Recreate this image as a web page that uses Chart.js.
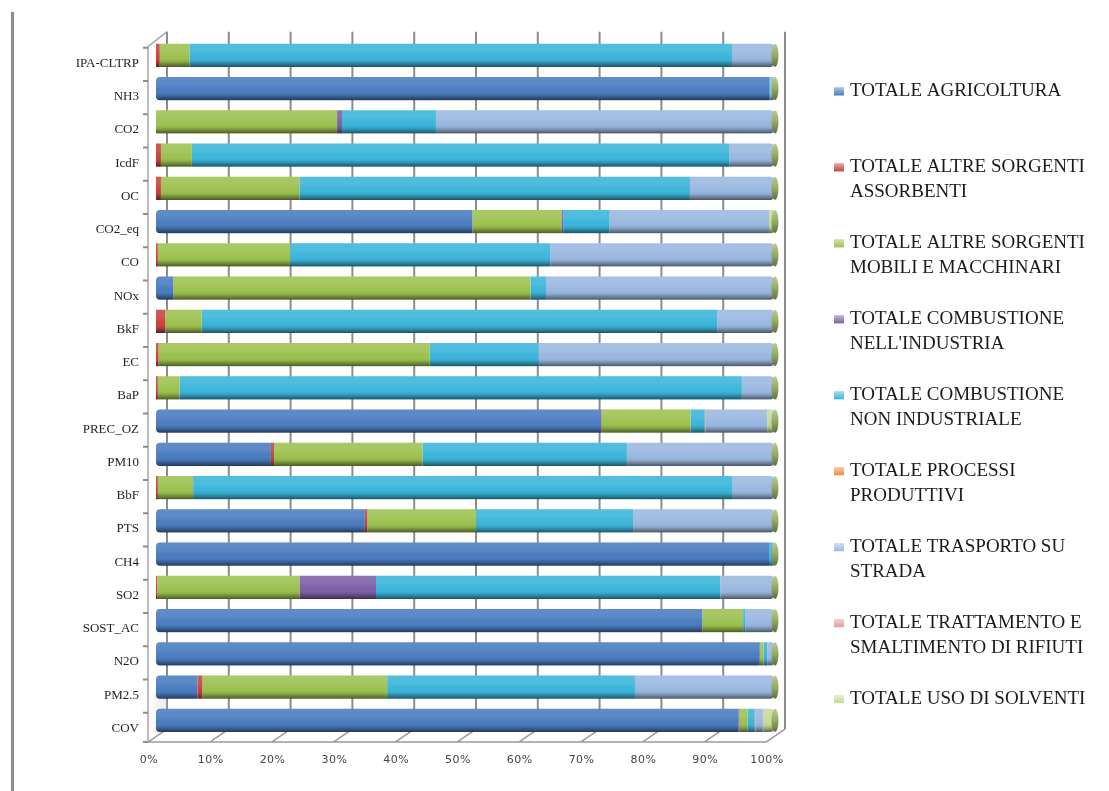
<!DOCTYPE html>
<html>
<head>
<meta charset="utf-8">
<title>Emissioni per macrosettore</title>
<script src="https://cdn.jsdelivr.net/npm/chart.js@4.4.0/dist/chart.umd.min.js"></script>
<style>
  html, body { margin: 0; padding: 0; background: #fff; }
  #wrap { position: relative; width: 1109px; height: 791px; overflow: hidden; }
  #wrap .side-rule {
    position: absolute; left: 11px; top: 12px; bottom: 0; width: 3px;
    background: #8c8c8c;
  }
  #chart { position: absolute; left: 0; top: 0; }
</style>
</head>
<body>
<div id="wrap">
  <div class="side-rule"></div>
  <canvas id="chart" width="1109" height="791"></canvas>
</div>
<script>
// === Data (percent share of each pollutant by macro-sector) ===
const categories = ['IPA-CLTRP', 'NH3', 'CO2', 'IcdF', 'OC', 'CO2_eq', 'CO', 'NOx', 'BkF', 'EC',
  'BaP', 'PREC_OZ', 'PM10', 'BbF', 'PTS', 'CH4', 'SO2', 'SOST_AC', 'N2O', 'PM2.5', 'COV'];

const seriesNames = [
  'TOTALE AGRICOLTURA',
  'TOTALE ALTRE SORGENTI ASSORBENTI',
  'TOTALE ALTRE SORGENTI MOBILI E MACCHINARI',
  "TOTALE COMBUSTIONE NELL'INDUSTRIA",
  'TOTALE COMBUSTIONE NON INDUSTRIALE',
  'TOTALE PROCESSI PRODUTTIVI',
  'TOTALE TRASPORTO SU STRADA',
  'TOTALE TRATTAMENTO E SMALTIMENTO DI RIFIUTI',
  'TOTALE USO DI SOLVENTI'
];

const agricoltura     = [0, 99.2, 0, 0, 0, 51.2, 0, 2.8, 0, 0, 0, 72.0, 18.6, 0, 33.8, 99.2, 0, 88.4, 97.7, 6.7, 94.3];
const altreAssorbenti = [0.6, 0, 0, 0.8, 0.8, 0, 0.3, 0, 1.5, 0.4, 0.3, 0.1, 0.5, 0.3, 0.4, 0, 0.2, 0, 0, 0.8, 0.1];
const altreMobili     = [4.8, 0, 29.3, 5.0, 22.4, 14.4, 21.4, 57.8, 5.9, 43.9, 3.5, 14.4, 24.0, 5.7, 17.6, 0, 23.0, 6.6, 0.6, 29.9, 1.3];
const combIndustria   = [0, 0, 0.8, 0, 0, 0.3, 0, 0, 0, 0, 0, 0, 0, 0, 0, 0, 12.4, 0, 0, 0, 0];
const combNonInd      = [87.8, 0.2, 15.2, 87.0, 63.2, 7.5, 42.1, 2.5, 83.4, 17.6, 91.0, 2.3, 33.1, 87.2, 25.4, 0.6, 55.7, 0.4, 0.6, 40.1, 1.2];
const processiProd    = [0, 0, 0, 0, 0, 0, 0, 0, 0, 0, 0, 0.1, 0, 0, 0, 0, 0, 0, 0, 0, 0.1];
const trasportoStrada = [6.8, 0.6, 54.7, 7.2, 13.6, 25.8, 36.2, 36.9, 9.2, 38.1, 5.2, 10.0, 23.8, 6.8, 22.8, 0.2, 8.7, 4.6, 1.1, 22.5, 1.2];
const rifiuti         = [0, 0, 0, 0, 0, 0, 0, 0, 0, 0, 0, 0, 0, 0, 0, 0, 0, 0, 0, 0, 0.1];
const solventi        = [0, 0, 0, 0, 0, 0.8, 0, 0, 0, 0, 0, 1.1, 0, 0, 0, 0, 0, 0, 0, 0, 1.7];

const seriesValues = [agricoltura, altreAssorbenti, altreMobili, combIndustria, combNonInd,
  processiProd, trasportoStrada, rifiuti, solventi];

const xTickValues = [0, 10, 20, 30, 40, 50, 60, 70, 80, 90, 100];

// === Styling ===
const seriesColors = ['#4a7cc0', '#c8423e', '#9cc14f', '#7d5fa6', '#3bb5da',
  '#f08a3c', '#9ab8e0', '#e59b9a', '#c5db98'];

const DEPTH_X = 19;   // back wall offset
const DEPTH_Y = 13;
const GRID_COLOR = '#8c8c8c';

// === 3D frame: back wall grid, side wall, floor, x labels ===
const frame3d = {
  id: 'frame3d',
  beforeDatasetsDraw(chart) {
    const { ctx, chartArea: a, scales: { x, y } } = chart;
    const front = v => x.getPixelForValue(v) - 8;
    const back = v => front(v) + DEPTH_X;
    const floorY = a.bottom + 5;
    const backFloorY = floorY - DEPTH_Y;
    const backTop = a.top - 7;
    const sideTop = backTop + 15;

    ctx.save();
    // back wall gridlines
    ctx.strokeStyle = GRID_COLOR;
    ctx.lineWidth = 2;
    xTickValues.forEach(v => {
      ctx.beginPath();
      ctx.moveTo(back(v), backTop);
      ctx.lineTo(back(v), backFloorY);
      ctx.stroke();
    });

    // floor lines
    ctx.strokeStyle = '#9a9a9a';
    ctx.lineWidth = 1.5;
    ctx.beginPath();
    ctx.moveTo(front(0), floorY);
    ctx.lineTo(front(100), floorY);
    xTickValues.forEach(v => {
      ctx.moveTo(front(v), floorY);
      ctx.lineTo(back(v), backFloorY);
    });
    ctx.stroke();

    // side wall
    const side = ctx.createLinearGradient(front(0), 0, back(0), 0);
    side.addColorStop(0, 'rgba(200,200,200,0.0)');
    side.addColorStop(1, 'rgba(190,190,190,0.35)');
    ctx.fillStyle = side;
    ctx.beginPath();
    ctx.moveTo(front(0), floorY - 45);
    ctx.lineTo(back(0), backFloorY - 45);
    ctx.lineTo(back(0), backFloorY);
    ctx.lineTo(front(0), floorY);
    ctx.closePath();
    ctx.fill();

    ctx.strokeStyle = '#a6a6a6';
    ctx.lineWidth = 1.5;
    ctx.beginPath();
    ctx.moveTo(front(0), floorY);
    ctx.lineTo(front(0), sideTop);
    ctx.lineTo(back(0), backTop);
    ctx.stroke();

    // category tick marks on the side wall edge
    ctx.strokeStyle = '#8c8c8c';
    ctx.lineWidth = 2;
    ctx.beginPath();
    categories.forEach((c, i) => {
      const ty = y.getPixelForValue(i) - 7.6;
      ctx.moveTo(front(0) - 5, ty);
      ctx.lineTo(front(0), ty);
    });
    ctx.moveTo(front(0) - 5, floorY);
    ctx.lineTo(front(0), floorY);
    ctx.stroke();

    // x tick labels under the floor edge
    ctx.font = '11px "DejaVu Sans", sans-serif';
    ctx.letterSpacing = '0.5px';
    ctx.fillStyle = '#444';
    ctx.textAlign = 'center';
    ctx.textBaseline = 'middle';
    xTickValues.forEach(v => ctx.fillText(v + '%', front(v) + 1, floorY + 18));
    ctx.restore();
  }
};

// === Cylinder shading + end caps ===
const cylinder = {
  id: 'cylinder',
  afterDatasetsDraw(chart) {
    const { ctx, scales: { x } } = chart;
    const meta = chart.getDatasetMeta(0);
    const x0 = x.getPixelForValue(0);
    const x1 = x.getPixelForValue(100);
    categories.forEach((c, i) => {
      const bar = meta.data[i];
      const h = bar.height;
      const top = bar.y - h / 2;

      ctx.save();
      ctx.globalCompositeOperation = 'source-atop';
      const g = ctx.createLinearGradient(0, top, 0, top + h);
      g.addColorStop(0, 'rgba(255,255,255,0.12)');
      g.addColorStop(0.3, 'rgba(255,255,255,0.10)');
      g.addColorStop(0.55, 'rgba(255,255,255,0)');
      g.addColorStop(0.75, 'rgba(0,0,0,0.08)');
      g.addColorStop(0.9, 'rgba(0,0,0,0.35)');
      g.addColorStop(1, 'rgba(0,0,0,0.55)');
      ctx.fillStyle = g;
      ctx.fillRect(x0 - 2, top, x1 - x0 + 4, h);
      ctx.restore();

      // end cap
      ctx.save();
      const cg = ctx.createLinearGradient(0, top, 0, top + h);
      cg.addColorStop(0, '#b9cb8d');
      cg.addColorStop(0.5, '#95ab63');
      cg.addColorStop(1, '#5d6f38');
      ctx.fillStyle = cg;
      ctx.beginPath();
      ctx.ellipse(x1 + 1, bar.y, 3.5, h / 2, 0, 0, Math.PI * 2);
      ctx.fill();
      ctx.restore();
    });
  }
};

// === Legend at the right, wrapped on two lines ===
function wrapText(ctx, text, maxWidth) {
  const words = text.split(' ');
  const lines = [];
  let line = '';
  words.forEach(w => {
    const test = line ? line + ' ' + w : w;
    if (line && ctx.measureText(test).width > maxWidth) {
      lines.push(line);
      line = w;
    } else {
      line = test;
    }
  });
  if (line) lines.push(line);
  return lines;
}

const sideLegend = {
  id: 'sideLegend',
  afterDraw(chart) {
    const ctx = chart.ctx;
    ctx.save();
    ctx.font = '19px "Liberation Serif", "Times New Roman", serif';
    ctx.textBaseline = 'middle';
    ctx.textAlign = 'left';
    seriesNames.forEach((name, i) => {
      const cy = 91.5 + i * 75.95;
      ctx.fillStyle = seriesColors[i];
      ctx.fillRect(834, cy - 4, 10, 8);
      const sg = ctx.createLinearGradient(0, cy - 4, 0, cy + 4);
      sg.addColorStop(0, 'rgba(255,255,255,0.55)');
      sg.addColorStop(1, 'rgba(255,255,255,0)');
      ctx.fillStyle = sg;
      ctx.fillRect(834, cy - 4, 10, 8);

      ctx.fillStyle = '#1a1a1a';
      wrapText(ctx, name, 252).forEach((line, k) => ctx.fillText(line, 850, cy + k * 25));
    });
    ctx.restore();
  }
};

// === Chart ===
const datasets = seriesNames.map((name, i) => ({
  label: name,
  data: seriesValues[i],
  backgroundColor: seriesColors[i],
  borderWidth: 0,
  borderRadius: 4,
  borderSkipped: 'middle',
  barPercentage: 0.7,
  categoryPercentage: 1
}));

new Chart(document.getElementById('chart'), {
  type: 'bar',
  data: { labels: categories, datasets },
  options: {
    indexAxis: 'y',
    responsive: false,
    devicePixelRatio: 1,
    animation: false,
    layout: { padding: { left: 0, right: 335, top: 38.7, bottom: 53.9 } },
    plugins: {
      legend: { display: false },
      tooltip: { enabled: false }
    },
    scales: {
      x: {
        stacked: true,
        min: 0,
        max: 100,
        display: false
      },
      y: {
        stacked: true,
        grid: { display: false, drawTicks: false },
        border: { display: false },
        ticks: {
          color: '#1f1f1f',
          font: { family: '"Liberation Serif", "Times New Roman", serif', size: 13 },
          padding: 17,
          labelOffset: 8,
          autoSkip: false
        },
        afterFit(scale) { scale.width = 156; }
      }
    }
  },
  plugins: [frame3d, cylinder, sideLegend]
});
</script>
</body>
</html>
